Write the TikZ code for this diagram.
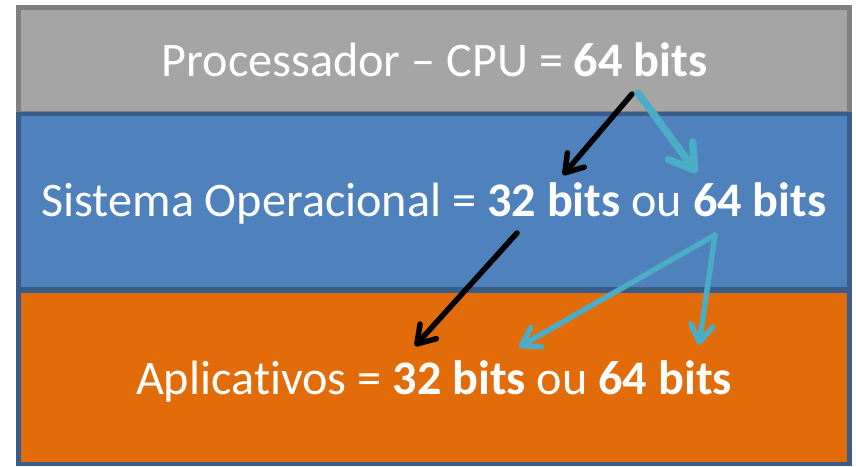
\documentclass[tikz,border=0pt]{standalone}
\usepackage{fontspec}
\setmainfont{Carlito}[Ligatures={NoCommon,NoDiscretionary,NoContextual}]
\usetikzlibrary{arrows.meta}
\definecolor{grayfill}{HTML}{A5A5A5}
\definecolor{grayline}{HTML}{7F7F7F}
\definecolor{bluefill}{HTML}{4F81BD}
\definecolor{blueline}{HTML}{385D8A}
\definecolor{orangefill}{HTML}{E36C0A}
\definecolor{cyanarrow}{HTML}{4BACC6}
\tikzset{
  band/.style={line width=4.5pt},
  label/.style={anchor=base, text=white, inner sep=0pt, font=\fontsize{48.2}{52}\selectfont},
  blackarrow/.style={line width=5.5pt, line cap=round, black, -{Straight Barb[length=17pt,width=22pt,round]}},
  cyanthin/.style={line width=5.5pt, line cap=round, cyanarrow, -{Straight Barb[length=17pt,width=22pt,round]}},
  cyanthick/.style={line width=7.5pt, line cap=round, cyanarrow, -{Straight Barb[length=24pt,width=30pt,round]}}
}
\begin{document}
\begin{tikzpicture}[x=1pt,y=-1pt]
\useasboundingbox (0,0) rectangle (856,466);
\fill[white] (0,0) rectangle (856,466);
% bands
\draw[band, fill=grayfill, draw=grayline] (18.5,7.5) rectangle (849.5,113);
\draw[band, fill=bluefill, draw=blueline] (18.5,114) rectangle (849.5,289);
\draw[band, fill=orangefill, draw=blueline] (18.5,291) rectangle (849.5,464);
% texts
\node[label] (cpu) at (434.5,76.7) {Processador – CPU = \textbf{64 bits}};
\node[label] (so) at (434,216.7) {Sistema Operacional = \textbf{32 bits} ou \textbf{64 bits}};
\node[label] (app) at (434,394) {Aplicativos = \textbf{32 bits} ou \textbf{64 bits}};
% arrow end points
\coordinate (b1s) at (632,94);
\coordinate (b1e) at (563,175);
\coordinate (c1s) at (638,93);
\coordinate (c1e) at (697,173);
\coordinate (b2s) at (517,233);
\coordinate (b2e) at (415,346);
\coordinate (c2s) at (715,235);
\coordinate (c2e) at (519,347);
\coordinate (c3e) at (699,345);
% arrows
\draw[blackarrow] (b1s) -- (b1e);
\draw[cyanthick] (c1s) -- (c1e);
\draw[blackarrow] (b2s) -- (b2e);
\draw[cyanthin] (c2s) -- (c2e);
\draw[cyanthin] (c2s) -- (c3e);
\end{tikzpicture}
\end{document}
